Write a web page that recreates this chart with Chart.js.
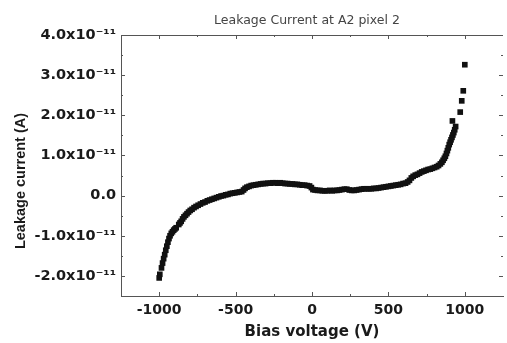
<!DOCTYPE html>
<html>
<head>
<meta charset="utf-8">
<script src="https://cdn.jsdelivr.net/npm/chart.js@4"></script>
<style>
  html, body { margin: 0; padding: 0; background: #fff; }
  #grafico { display: block; }
</style>
</head>
<body>
<canvas id="grafico" width="507" height="343"></canvas>
<script>
// bias voltage (V)
const biasVoltage = [
  -1000, -996, -985, -978, -971, -964, -957, -950, -943, -936, -929, -921, -913, -905, -897, -889,
  -872, -864, -856, -847, -838, -828, -818, -808, -797, -785, -772, -759, -745, -730, -715, -700,
  -685, -670, -655, -640, -625, -610, -595, -580, -565, -550, -535, -520, -505, -490, -475, -460,
  -448, -438, -426, -412, -398, -383, -368, -352, -336, -320, -304, -288, -272, -256, -240, -224,
  -208, -192, -176, -160, -144, -128, -112, -96, -80, -64, -48, -32, -16, -4,
  6, 20, 36, 52, 68, 84, 100, 116, 132, 148, 164, 180, 196, 212, 228, 244, 260, 276, 292, 308,
  324, 340, 356, 372, 388, 404, 420, 436, 452, 468, 484, 500, 516, 532, 548, 564, 580, 596,
  612, 626, 638, 650, 662, 676, 690, 704, 718, 732, 746, 760, 774, 788, 802, 816, 828, 840,
  850, 858, 866, 873, 880, 886, 892, 898, 904, 910, 916, 922, 928, 934, 940, 919,
  970, 980, 990, 1000
];
// leakage current, in units of 1e-11 A
const leakageCurrent = [
  -2.05, -1.96, -1.80, -1.68, -1.57, -1.47, -1.36, -1.26, -1.16, -1.07, -1.00, -0.94, -0.90, -0.86, -0.83, -0.80,
  -0.72, -0.68, -0.64, -0.58, -0.53, -0.49, -0.45, -0.41, -0.37, -0.34, -0.30, -0.27, -0.24, -0.21, -0.18, -0.16,
  -0.13, -0.11, -0.09, -0.07, -0.05, -0.03, -0.01, 0.00, 0.02, 0.03, 0.05, 0.06, 0.07, 0.08, 0.09, 0.10,
  0.14, 0.18, 0.21, 0.23, 0.25, 0.26, 0.27, 0.28, 0.29, 0.30, 0.30, 0.31, 0.31, 0.32, 0.32, 0.31,
  0.32, 0.31, 0.30, 0.30, 0.29, 0.29, 0.28, 0.28, 0.27, 0.26, 0.26, 0.25, 0.24, 0.20,
  0.15, 0.14, 0.13, 0.13, 0.12, 0.12, 0.12, 0.13, 0.12, 0.13, 0.13, 0.14, 0.15, 0.16, 0.16, 0.14, 0.13, 0.13, 0.14, 0.15,
  0.16, 0.17, 0.17, 0.17, 0.17, 0.18, 0.18, 0.19, 0.20, 0.21, 0.22, 0.23, 0.24, 0.25, 0.26, 0.27, 0.28, 0.30,
  0.31, 0.34, 0.38, 0.44, 0.48, 0.51, 0.53, 0.56, 0.59, 0.61, 0.63, 0.65, 0.66, 0.68, 0.70, 0.72, 0.75, 0.79,
  0.83, 0.88, 0.93, 0.98, 1.05, 1.12, 1.19, 1.27, 1.33, 1.39, 1.45, 1.51, 1.57, 1.64, 1.72, 1.86,
  2.08, 2.36, 2.61, 3.26
];

const xTicks = [-1000, -500, 0, 500, 1000];
const xMinorTicks = [-1000, -750, -500, -250, 0, 250, 500, 750, 1000];
const yTicks = [-2, -1, 0, 1, 2, 3, 4];
const yMinorTicks = [-2, -1.5, -1, -0.5, 0, 0.5, 1, 1.5, 2, 2.5, 3, 3.5, 4];
const yTickLabels = ['-2.0x10⁻¹¹', '-1.0x10⁻¹¹', '0.0', '1.0x10⁻¹¹', '2.0x10⁻¹¹', '3.0x10⁻¹¹', '4.0x10⁻¹¹'];

const titulo = 'Leakage Current at A2 pixel 2';
const tituloY = 'Leakage current (A)';
const tituloX = 'Bias voltage (V)';

const pontos = biasVoltage.map((v, i) => ({ x: v, y: leakageCurrent[i] }));

// moldura de cima, ticks para dentro e textos fora da escala
const molduraPlugin = {
  id: 'moldura',
  afterDraw(chart) {
    const ctx = chart.ctx;
    const { left, right, top, bottom } = chart.chartArea;
    const sx = chart.scales.x;
    const sy = chart.scales.y;
    ctx.save();
    ctx.strokeStyle = '#555';
    ctx.lineWidth = 1;
    ctx.beginPath();
    ctx.moveTo(left, top + 0.5);
    ctx.lineTo(right, top + 0.5);
    xMinorTicks.forEach(v => {
      const px = Math.round(sx.getPixelForValue(v)) + 0.5;
      const len = xTicks.includes(v) ? 4 : 2;
      ctx.moveTo(px, bottom);
      ctx.lineTo(px, bottom - len);
      ctx.moveTo(px, top);
      ctx.lineTo(px, top + len);
    });
    yMinorTicks.forEach(v => {
      const py = Math.round(sy.getPixelForValue(v)) + 0.5;
      const len = yTicks.includes(v) ? 4 : 2;
      ctx.moveTo(left, py);
      ctx.lineTo(left + len, py);
      ctx.moveTo(right, py);
      ctx.lineTo(right - len, py);
    });
    ctx.stroke();

    ctx.fillStyle = '#444';
    ctx.font = '12.5px "DejaVu Sans"';
    ctx.textAlign = 'center';
    ctx.textBaseline = 'middle';
    ctx.fillText(titulo, (left + right) / 2 - 5, 21);

    ctx.fillStyle = '#1a1a1a';
    ctx.font = 'bold 14.5px "Liberation Sans"';
    ctx.translate(25, 181);
    ctx.rotate(-Math.PI / 2);
    ctx.textBaseline = 'alphabetic';
    ctx.fillText(tituloY, 0, 0);
    ctx.restore();
  }
};

new Chart(document.getElementById('grafico'), {
  type: 'scatter',
  data: {
    datasets: [{
      label: 'A2 pixel 2',
      data: pontos,
      pointStyle: 'rect',
      pointRadius: 4,
      backgroundColor: '#111',
      borderWidth: 0
    }]
  },
  options: {
    responsive: false,
    animation: false,
    devicePixelRatio: 1,
    layout: { padding: { top: 35, right: 1, bottom: 0, left: 0 } },
    plugins: {
      legend: { display: false },
      tooltip: { enabled: false }
    },
    scales: {
      x: {
        type: 'linear',
        position: 'bottom',
        min: -1250,
        max: 1250,
        afterBuildTicks: s => { s.ticks = xTicks.map(v => ({ value: v })); },
        afterFit: s => { s.height = 47; },
        grid: { display: false, drawTicks: false },
        border: { display: true, color: '#555', width: 1 },
        ticks: {
          autoSkip: false,
          maxRotation: 0,
          padding: 6,
          color: '#1a1a1a',
          font: { family: 'DejaVu Sans', weight: 'bold', size: 14 },
          callback: value => String(value)
        },
        title: {
          display: true,
          text: tituloX,
          color: '#1a1a1a',
          padding: { top: 0, bottom: 2 },
          font: { family: 'DejaVu Sans', weight: 'bold', size: 15 }
        }
      },
      y: {
        type: 'linear',
        position: 'left',
        min: -2.5,
        max: 4,
        afterBuildTicks: s => { s.ticks = yTicks.map(v => ({ value: v })); },
        afterFit: s => { s.width = 121; },
        grid: { display: false, drawTicks: false },
        border: { display: true, color: '#555', width: 1 },
        ticks: {
          padding: 5,
          color: '#1a1a1a',
          font: { family: 'DejaVu Sans', weight: 'bold', size: 14.5 },
          callback: (value, index) => yTickLabels[index]
        }
      }
    }
  },
  plugins: [molduraPlugin]
});
</script>
</body>
</html>
